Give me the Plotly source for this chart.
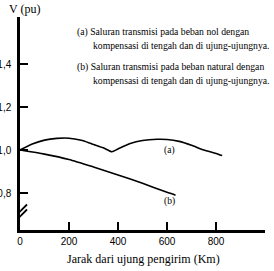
import plotly.graph_objects as go

# Data
dist_a = [0, 50, 100, 150, 200, 250, 290, 340, 375, 400, 450, 500, 560, 600, 650, 700, 750, 800, 825]
volt_a = [1.0, 1.028, 1.046, 1.054, 1.055, 1.045, 1.03, 1.01, 0.992, 1.005, 1.03, 1.044, 1.05, 1.049, 1.04, 1.022, 1.0, 0.984, 0.974]
dist_b = [0, 100, 200, 300, 400, 500, 600, 635]
volt_b = [1.0, 0.981, 0.956, 0.921, 0.884, 0.845, 0.803, 0.79]

x_ticks = [0, 200, 400, 600, 800]
y_ticks = [0.8, 1.0, 1.2, 1.4]
y_ticktext = ["0,8", "1,0", "1,2", "1,4"]

W, H = 274, 271
L, R, T, B = 20, 9, 17, 41
pw, ph = W - L - R, H - T - B

def px(x):
    return (x - L) / pw

def py(y):
    return (H - B - y) / ph

serif = "Liberation Serif"
sans = "Liberation Sans"

fig = go.Figure()
fig.add_trace(go.Scatter(x=dist_a, y=volt_a, mode="lines", line=dict(color="black", width=1.6, shape="spline", smoothing=0.6), hoverinfo="skip"))
fig.add_trace(go.Scatter(x=dist_b, y=volt_b, mode="lines", line=dict(color="black", width=1.6, shape="spline", smoothing=0.6), hoverinfo="skip"))

ann = []
ann.append(dict(text="V (pu)", x=px(7), y=py(9), xref="paper", yref="paper", xanchor="left", yanchor="middle", showarrow=False, font=dict(family=serif, size=12, color="black")))
legend_lines = [
    ("(a) Saluran transmisi pada beban nol dengan", 75, 32),
    ("kompensasi di tengah dan di ujung-ujungnya.", 91, 45),
    ("(b) Saluran transmisi pada beban natural dengan", 75, 67),
    ("kompensasi di tengah dan di ujung-ujungnya.", 91, 80),
]
for t, xx, yy in legend_lines:
    ann.append(dict(text=t, x=px(xx), y=py(yy), xref="paper", yref="paper", xanchor="left", yanchor="middle", showarrow=False, font=dict(family=serif, size=9.7, color="black")))
ann.append(dict(text="(a)", x=612, y=0.997, xref="x", yref="y", showarrow=False, font=dict(family=serif, size=9.5, color="black")))
ann.append(dict(text="(b)", x=609, y=0.762, xref="x", yref="y", showarrow=False, font=dict(family=serif, size=9.5, color="black")))
ann.append(dict(text="Jarak dari ujung pengirim (Km)", x=px(143.5), y=py(259), xref="paper", yref="paper", xanchor="center", yanchor="middle", showarrow=False, font=dict(family=serif, size=12, color="black")))

shapes = []
for off in (0, 5):
    shapes.append(dict(type="line", xref="x", yref="y", xsizemode="pixel", ysizemode="pixel", xanchor=0, yanchor=0.7,
                       x0=-7, x1=7, y0=-9 + off, y1=5 + off, line=dict(color="black", width=1.8)))

fig.update_layout(
    width=W, height=H, margin=dict(l=L, r=R, t=T, b=B, autoexpand=False),
    paper_bgcolor="white", plot_bgcolor="white", showlegend=False,
    annotations=ann, shapes=shapes,
    xaxis=dict(range=[0, 1000], tickvals=x_ticks, ticks="inside", ticklen=8, tickwidth=1.5, tickcolor="black",
               showline=True, linecolor="black", linewidth=2.5, showgrid=False, zeroline=False,
               tickfont=dict(family=sans, size=10, color="black"), automargin=False),
    yaxis=dict(range=[1 - 80 / 215, 1 + 133 / 215], tickvals=y_ticks, ticktext=y_ticktext, ticks="inside", ticklen=8,
               tickwidth=1.5, tickcolor="black", showline=True, linecolor="black", linewidth=2.5, showgrid=False,
               zeroline=False, tickfont=dict(family=sans, size=10, color="black"), automargin=False, ticklabelstandoff=4),
)
fig.write_html("out.html")
